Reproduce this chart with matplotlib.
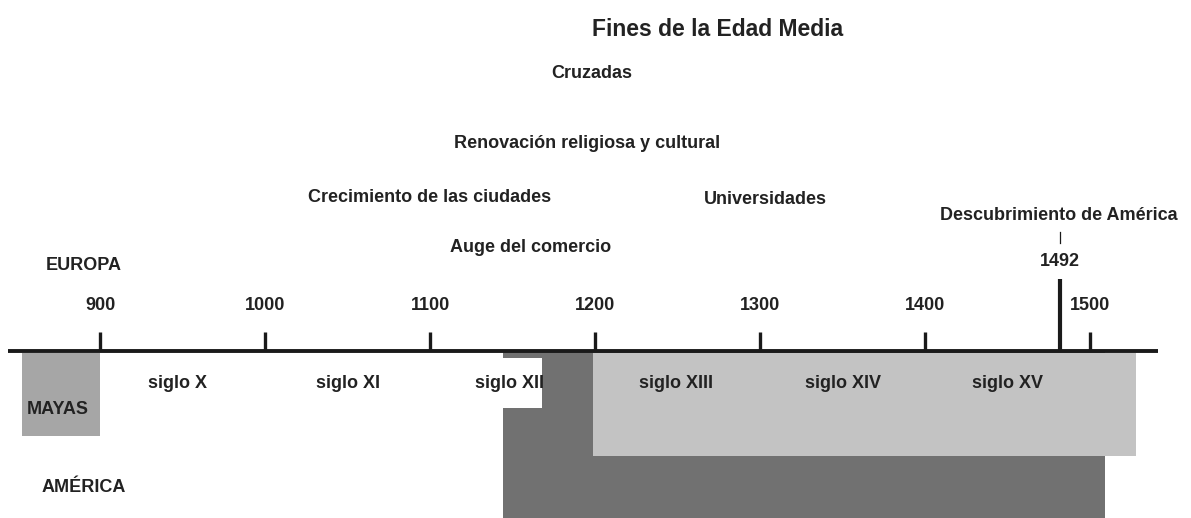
import numpy as np
import matplotlib as mpl
mpl.use('Agg')
import matplotlib.pyplot as plt
from matplotlib.patches import Rectangle

plt.rcParams['font.family'] = ['Liberation Sans Narrow', 'Liberation Sans', 'DejaVu Sans']

# ---- data ----
centuries = [900, 1000, 1100, 1200, 1300, 1400, 1500]
century_labels = ['900', '1000', '1100', '1200', '1300', '1400', '1500']

siglo_labels = ['siglo X', 'siglo XI', 'siglo XII', 'siglo XIII', 'siglo XIV', 'siglo XV']
siglo_years = [947, 1050, 1148, 1249, 1350, 1450]

event_labels = ['Fines de la Edad Media', 'Cruzadas', 'Renovación religiosa y cultural',
                'Crecimiento de las ciudades', 'Universidades', 'Auge del comercio',
                'Descubrimiento de América']
event_years = [1274, 1198, 1195, 1100, 1303, 1161, 1481]

region_labels = ['EUROPA', 'MAYAS', 'AMÉRICA']

# periods: (start, end) in years
mayas_period = (853, 900)
america_period = (1144, 1509)     # dark band
europe_period = (1199, 1528)      # light band
siglo_xii_gap = (1144, 1168)

marker_year = 1482   # where the 1492 mark sits in the picture
marker_label = '1492'
axis_span = (844, 1541)

TXT = '#222222'

fig = plt.figure(figsize=(11.91, 5.18), dpi=100)
ax = fig.add_axes([0, 0, 1, 1])
px = 1.65  # pixels per year
x0 = 900 - 100 / px
ax.set_xlim(x0, 900 + 1091 / px)
ax.set_ylim(518, 0)
ax.axis('off')

fs = 13

# bands
ax.add_patch(Rectangle((america_period[0], 352), america_period[1] - america_period[0], 170,
                       facecolor='#717171', edgecolor='none', zorder=1))
ax.add_patch(Rectangle((siglo_xii_gap[0], 358), siglo_xii_gap[1] - siglo_xii_gap[0], 50,
                       facecolor='white', edgecolor='none', zorder=2))
ax.add_patch(Rectangle((europe_period[0], 353), europe_period[1] - europe_period[0], 103,
                       facecolor='#c3c3c3', edgecolor='none', zorder=3))
ax.add_patch(Rectangle((mayas_period[0], 353), mayas_period[1] - mayas_period[0], 83,
                       facecolor='#a6a6a6', edgecolor='none', zorder=3))

# main axis line and ticks
ax.plot(axis_span, [351, 351], color='#1a1a1a', lw=2.8, solid_capstyle='butt', zorder=5)
for yr, lab in zip(centuries, century_labels):
    ax.plot([yr, yr], [351, 332], color='#1a1a1a', lw=2.4, solid_capstyle='butt', zorder=5)
    ax.text(yr, 305, lab, ha='center', va='center', fontsize=fs, fontweight='bold', color=TXT)

ax.plot([marker_year, marker_year], [351, 279], color='#1a1a1a', lw=3, solid_capstyle='butt', zorder=5)
ax.text(marker_year, 262, marker_label, ha='center', va='center', fontsize=fs, fontweight='bold', color=TXT)
ax.plot([marker_year, marker_year], [232, 243], color='#1a1a1a', lw=0.9, zorder=5)

for yr, lab in zip(siglo_years, siglo_labels):
    ax.text(yr, 383, lab, ha='center', va='center', fontsize=fs, fontweight='bold', color=TXT, zorder=6)

event_y = [30, 74, 144, 198, 200, 247, 215]
for yr, lab, y in zip(event_years, event_labels, event_y):
    size = 16.5 if lab.startswith('Fines') else fs
    ax.text(yr, y, lab, ha='center', va='center', fontsize=size, fontweight='bold', color=TXT)

# region names, left edge in pixels
region_x = [46, 27, 42]
region_y = [265, 409, 488]
for lab, xp, y in zip(region_labels, region_x, region_y):
    ax.text(x0 + xp / px, y, lab, ha='left', va='center', fontsize=fs,
            fontweight='bold', color=TXT, zorder=6)

fig.savefig('out.png', dpi=100)
